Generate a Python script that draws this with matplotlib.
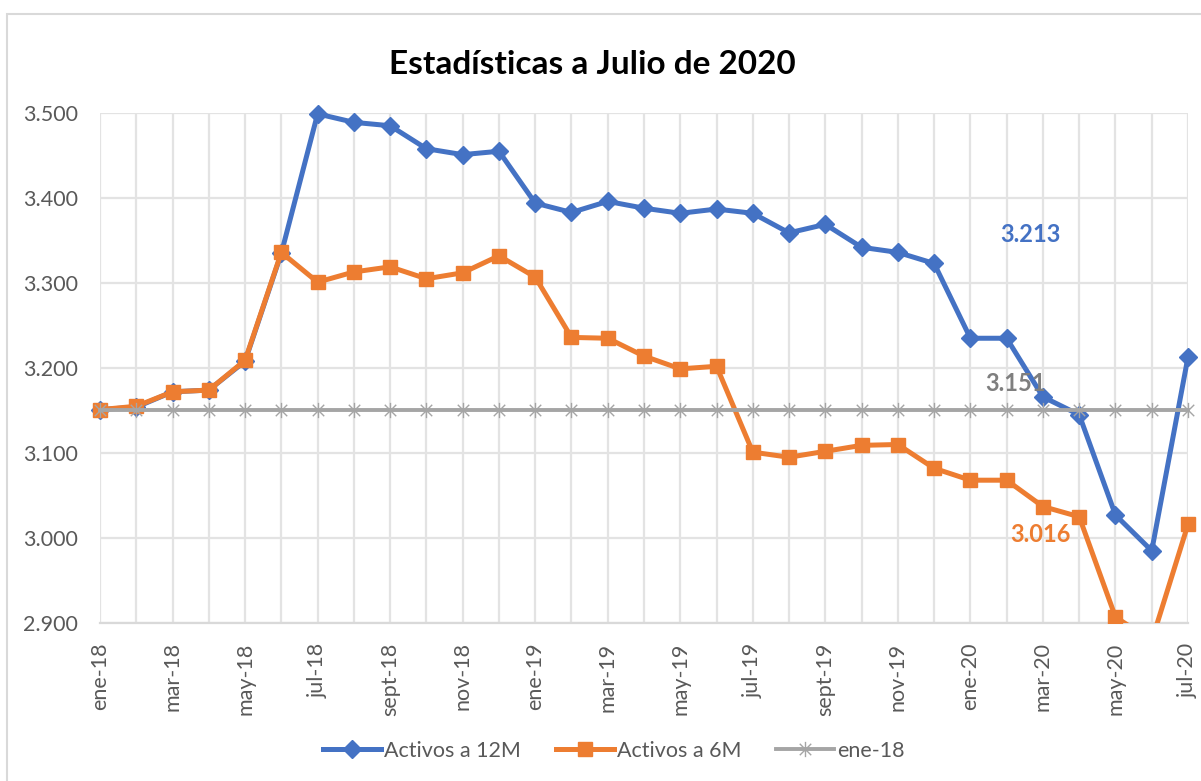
import matplotlib.pyplot as plt
from matplotlib.path import Path
from matplotlib.patches import Rectangle

meses = ['ene-18', 'feb-18', 'mar-18', 'abr-18', 'may-18', 'jun-18', 'jul-18', 'ago-18',
         'sept-18', 'oct-18', 'nov-18', 'dic-18', 'ene-19', 'feb-19', 'mar-19', 'abr-19',
         'may-19', 'jun-19', 'jul-19', 'ago-19', 'sept-19', 'oct-19', 'nov-19', 'dic-19',
         'ene-20', 'feb-20', 'mar-20', 'abr-20', 'may-20', 'jun-20', 'jul-20']

activos_12m = [3.151, 3.154, 3.172, 3.174, 3.208, 3.335, 3.499, 3.489, 3.485, 3.458, 3.451,
               3.455, 3.394, 3.383, 3.396, 3.388, 3.382, 3.387, 3.382, 3.359, 3.369, 3.342,
               3.336, 3.323, 3.235, 3.235, 3.166, 3.145, 3.027, 2.985, 3.213]

activos_6m = [3.151, 3.155, 3.172, 3.174, 3.209, 3.336, 3.301, 3.313, 3.319, 3.305, 3.312,
              3.332, 3.307, 3.236, 3.235, 3.214, 3.199, 3.202, 3.101, 3.095, 3.102, 3.109,
              3.110, 3.082, 3.068, 3.068, 3.037, 3.025, 2.907, 2.879, 3.016]

ene_18 = [3.151, 3.151, 3.151, 3.151, 3.151, 3.151, 3.151, 3.151, 3.151, 3.151, 3.151,
          3.151, 3.151, 3.151, 3.151, 3.151, 3.151, 3.151, 3.151, 3.151, 3.151, 3.151,
          3.151, 3.151, 3.151, 3.151, 3.151, 3.151, 3.151, 3.151, 3.151]

y_ticks = [2.9, 3.0, 3.1, 3.2, 3.3, 3.4, 3.5]
y_labels = ['2.900', '3.000', '3.100', '3.200', '3.300', '3.400', '3.500']

azul = '#4472c4'
naranja = '#ed7d31'
gris = '#a5a5a5'
texto = '#595959'

plt.rcParams['font.family'] = ['Lato', 'DejaVu Sans']

fig = plt.figure(figsize=(12.01, 7.81), dpi=100)
ax = fig.add_axes([100 / 1201, 1 - 623 / 781, 1088 / 1201, 510 / 781])

# marcador tipo asterisco de Excel (X + linea vertical)
asterisco = Path([(0, -1), (0, 1), (-0.75, -0.75), (0.75, 0.75), (-0.75, 0.75), (0.75, -0.75)],
                 [Path.MOVETO, Path.LINETO, Path.MOVETO, Path.LINETO, Path.MOVETO, Path.LINETO])

x = list(range(len(meses)))
l1, = ax.plot(x, activos_12m, color=azul, lw=3.6, marker='D', ms=9.5, label='Activos a 12M', zorder=3)
l2, = ax.plot(x, activos_6m, color=naranja, lw=3.6, marker='s', ms=10.5, label='Activos a 6M', zorder=4)
l3, = ax.plot(x, ene_18, color=gris, lw=2.8, marker=asterisco, ms=11, mew=1.0, mec=gris,
              label='ene-18', zorder=5)

# solo se recorta por debajo del eje (como Excel), los marcadores de los bordes se ven enteros
for ln in (l1, l2, l3):
    ln.set_clip_path(Rectangle((-0.05, 0), 1.1, 1.1, transform=ax.transAxes))

ax.set_xlim(0, len(meses) - 1)
ax.set_ylim(2.9, 3.5)
ax.set_yticks(y_ticks)
ax.set_yticklabels(y_labels)
ax.set_xticks(x)
ax.set_xticklabels([m if i % 2 == 0 else '' for i, m in enumerate(meses)], rotation=90)
ax.tick_params(axis='both', length=0, labelsize=15.5, colors=texto)
ax.tick_params(axis='y', pad=16)
ax.tick_params(axis='x', pad=14)

ax.grid(True, color='#e3e3e3', lw=1.6)
ax.set_axisbelow(True)
for s in ['top', 'right', 'left']:
    ax.spines[s].set_visible(False)
ax.spines['bottom'].set_color('#d9d9d9')
ax.spines['bottom'].set_linewidth(1.6)

# etiquetas del ultimo dato
ax.annotate('3.213', (x[-1], activos_12m[-1]), xytext=(-158, 122), textcoords='offset pixels',
            ha='center', va='center', fontsize=17, fontweight='bold', color=azul)
ax.annotate('3.151', (x[-1], ene_18[-1]), xytext=(-172, 26), textcoords='offset pixels',
            ha='center', va='center', fontsize=17, fontweight='bold', color='#7f7f7f', zorder=6)
ax.annotate('3.016', (x[-1], activos_6m[-1]), xytext=(-148, -10), textcoords='offset pixels',
            ha='center', va='center', fontsize=17, fontweight='bold', color=naranja)

fig.text(592 / 1201, 1 - 64 / 781, 'Estadísticas a Julio de 2020', ha='center', va='center',
         fontsize=24, fontweight='bold', color='black')

fig.legend(loc='center', bbox_to_anchor=(614 / 1201, 1 - 751 / 781), ncol=3, frameon=False,
           fontsize=15.5, handlelength=2.7, handletextpad=0.15, columnspacing=1.6,
           labelcolor=texto)

fig.patches.append(Rectangle((7 / 1201, -0.05), 1.1, 1 - 14 / 781 + 0.05,
                             transform=fig.transFigure, fill=False, ec='#d9d9d9', lw=1.5))

fig.savefig('out.png', dpi=100)
